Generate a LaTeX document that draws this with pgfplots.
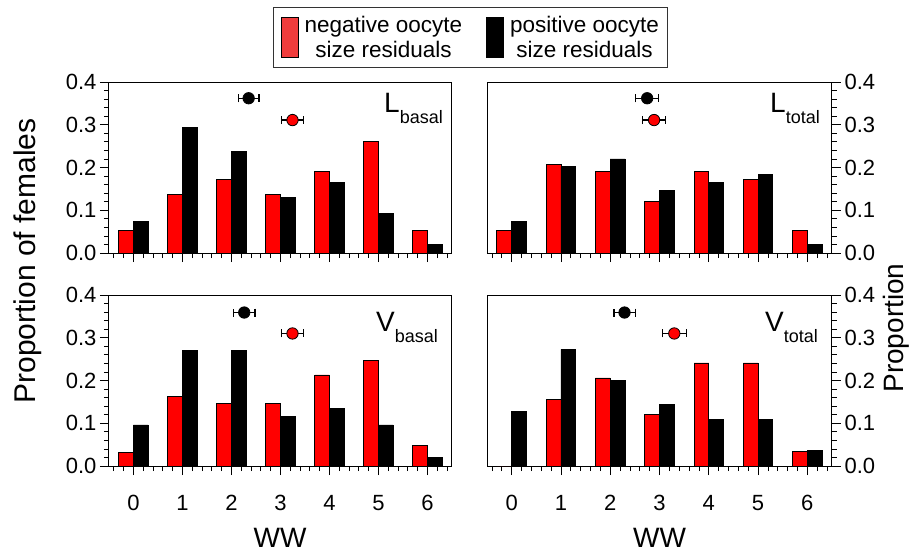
\documentclass[border=0pt]{standalone}
\usepackage{pgfplots}
\pgfplotsset{compat=1.18}
\usepackage{pgfplotstable}
\usepackage{fontspec}
\setmainfont{Liberation Sans}

\pgfplotstableread{
x neg pos
0 0.052 0.073
1 0.138 0.293
2 0.173 0.238
3 0.138 0.129
4 0.191 0.166
5 0.260 0.092
6 0.052 0.020
}\Lbasal
\pgfplotstableread{
x neg pos
0 0.052 0.073
1 0.208 0.202
2 0.191 0.220
3 0.121 0.147
4 0.191 0.166
5 0.173 0.183
6 0.052 0.020
}\Ltotal
\pgfplotstableread{
x neg pos
0 0.031 0.096
1 0.163 0.270
2 0.147 0.270
3 0.147 0.116
4 0.213 0.135
5 0.246 0.096
6 0.048 0.019
}\Vbasal
\pgfplotstableread{
x neg pos
0 0.000 0.127
1 0.155 0.273
2 0.206 0.201
3 0.120 0.145
4 0.241 0.109
5 0.241 0.109
6 0.033 0.036
}\Vtotal

\definecolor{legred}{RGB}{240,60,60}

\pgfplotsset{
  panel/.style={
    scale only axis, width=343pt, height=171pt,
    xmin=-0.5, xmax=6.5, ymin=0, ymax=0.4,
    xtick={0,1,2,3,4,5,6},
    minor xtick={-0.4,-0.2,0.2,0.4,0.6,0.8,1.2,1.4,1.6,1.8,2.2,2.4,2.6,2.8,3.2,3.4,3.6,3.8,4.2,4.4,4.6,4.8,5.2,5.4,5.6,5.8,6.2,6.4},
    ytick={0,0.1,0.2,0.3,0.4},
    minor ytick={0.02,0.04,0.06,0.08,0.12,0.14,0.16,0.18,0.22,0.24,0.26,0.28,0.32,0.34,0.36,0.38},
    tick align=outside, xtick pos=bottom,
    major tick length=9pt, minor tick length=5pt,
    axis line style={line width=1pt, black},
    every tick/.style={line width=0.8pt, black},
    tick label style={font=\fontsize{22}{22}\selectfont},
    /pgf/number format/assume math mode=true,
    xticklabel style={yshift=-17pt},
    yticklabel style={/pgf/number format/fixed, /pgf/number format/fixed zerofill, /pgf/number format/precision=1},
  },
  leftpanel/.style={panel, ytick pos=left},
  rightpanel/.style={panel, ytick pos=right, yticklabel pos=right},
  negbar/.style={ybar, bar width=0.3, bar shift=-0.15, fill=red, draw=black, line width=0.8pt, forget plot},
  posbar/.style={ybar, bar width=0.3, bar shift=0.15, fill=black, draw=black, line width=0.8pt, forget plot},
  meanpt/.style={only marks, mark=*, mark size=5.7pt, mark options={fill=#1, draw=black, line width=0.8pt}, forget plot,
    error bars/.cd, x dir=both, x explicit, error mark=|,
    error bar style={line width=1.2pt, black},
    error mark options={line width=1.2pt, black, mark size=4pt}},
  tallpatch/.style={legend image code/.code={\draw[##1] (0pt,-20pt) rectangle (17pt,20pt);}},
}

\newcommand{\panellab}[2]{#1\raisebox{-11pt}{\fontsize{18}{18}\selectfont #2}}

\begin{document}
\begin{tikzpicture}
\useasboundingbox (0pt,0pt) rectangle (911pt,-552pt);

% top-left: L basal
\begin{axis}[leftpanel, at={(109pt,-253pt)}, anchor=south west, xticklabels={},
  legend columns=2,
  legend style={at={(1.055,1.26)}, anchor=center, draw=black!80, line width=1pt,
    font=\fontsize{22.5}{25}\selectfont, cells={align=center},
    /tikz/every odd column/.append style={column sep=4pt},
    /tikz/every even column/.append style={column sep=22pt},
    inner xsep=7pt, inner ysep=7pt}]
\addplot[negbar] table[x=x, y=neg] {\Lbasal};
\addplot[posbar] table[x=x, y=pos] {\Lbasal};
\addplot[meanpt=black] coordinates {(2.35,0.362) +- (0.21,0)};
\addplot[meanpt=red] coordinates {(3.245,0.311) +- (0.22,0)};
\node[anchor=north east, inner sep=0pt, font=\fontsize{28}{28}\selectfont] at (rel axis cs:1,1) [xshift=-9pt, yshift=-11pt] {\panellab{L}{basal}};
\addlegendimage{tallpatch, fill=legred, draw=black, line width=0.8pt}
\addlegendentry{negative oocyte\\size residuals}
\addlegendimage{tallpatch, fill=black, draw=black, line width=0.8pt}
\addlegendentry{positive oocyte\\size residuals}
\end{axis}

% top-right: L total
\begin{axis}[rightpanel, at={(487pt,-253pt)}, anchor=south west, width=345pt, xticklabels={}]
\addplot[negbar] table[x=x, y=neg] {\Ltotal};
\addplot[posbar] table[x=x, y=pos] {\Ltotal};
\addplot[meanpt=black] coordinates {(2.75,0.362) +- (0.23,0)};
\addplot[meanpt=red] coordinates {(2.89,0.311) +- (0.23,0)};
\node[anchor=north east, inner sep=0pt, font=\fontsize{28}{28}\selectfont] at (rel axis cs:1,1) [xshift=-12pt, yshift=-11pt] {\panellab{L}{total}};
\end{axis}

% bottom-left: V basal
\begin{axis}[leftpanel, at={(109pt,-466pt)}, anchor=south west]
\addplot[negbar] table[x=x, y=neg] {\Vbasal};
\addplot[posbar] table[x=x, y=pos] {\Vbasal};
\addplot[meanpt=black] coordinates {(2.26,0.359) +- (0.22,0)};
\addplot[meanpt=red] coordinates {(3.245,0.310) +- (0.22,0)};
\node[anchor=north east, inner sep=0pt, font=\fontsize{28}{28}\selectfont] at (rel axis cs:1,1) [xshift=-14pt, yshift=-17pt] {\panellab{V}{basal}};
\end{axis}

% bottom-right: V total
\begin{axis}[rightpanel, at={(487pt,-466pt)}, anchor=south west, width=345pt]
\addplot[negbar] table[x=x, y=neg] {\Vtotal};
\addplot[posbar] table[x=x, y=pos] {\Vtotal};
\addplot[meanpt=black] coordinates {(2.29,0.359) +- (0.215,0)};
\addplot[meanpt=red] coordinates {(3.30,0.310) +- (0.24,0)};
\node[anchor=north east, inner sep=0pt, font=\fontsize{28}{28}\selectfont] at (rel axis cs:1,1) [xshift=-14pt, yshift=-17pt] {\panellab{V}{total}};
\end{axis}

\node[rotate=90, anchor=base, font=\fontsize{30}{30}\selectfont] at (35pt,-261pt) {Proportion of females};
\node[rotate=90, anchor=base, font=\fontsize{28}{28}\selectfont] at (903pt,-328pt) {Proportion};
\node[anchor=base, font=\fontsize{28}{28}\selectfont] at (280pt,-547pt) {WW};
\node[anchor=base, font=\fontsize{28}{28}\selectfont] at (659.5pt,-547pt) {WW};
\end{tikzpicture}
\end{document}
